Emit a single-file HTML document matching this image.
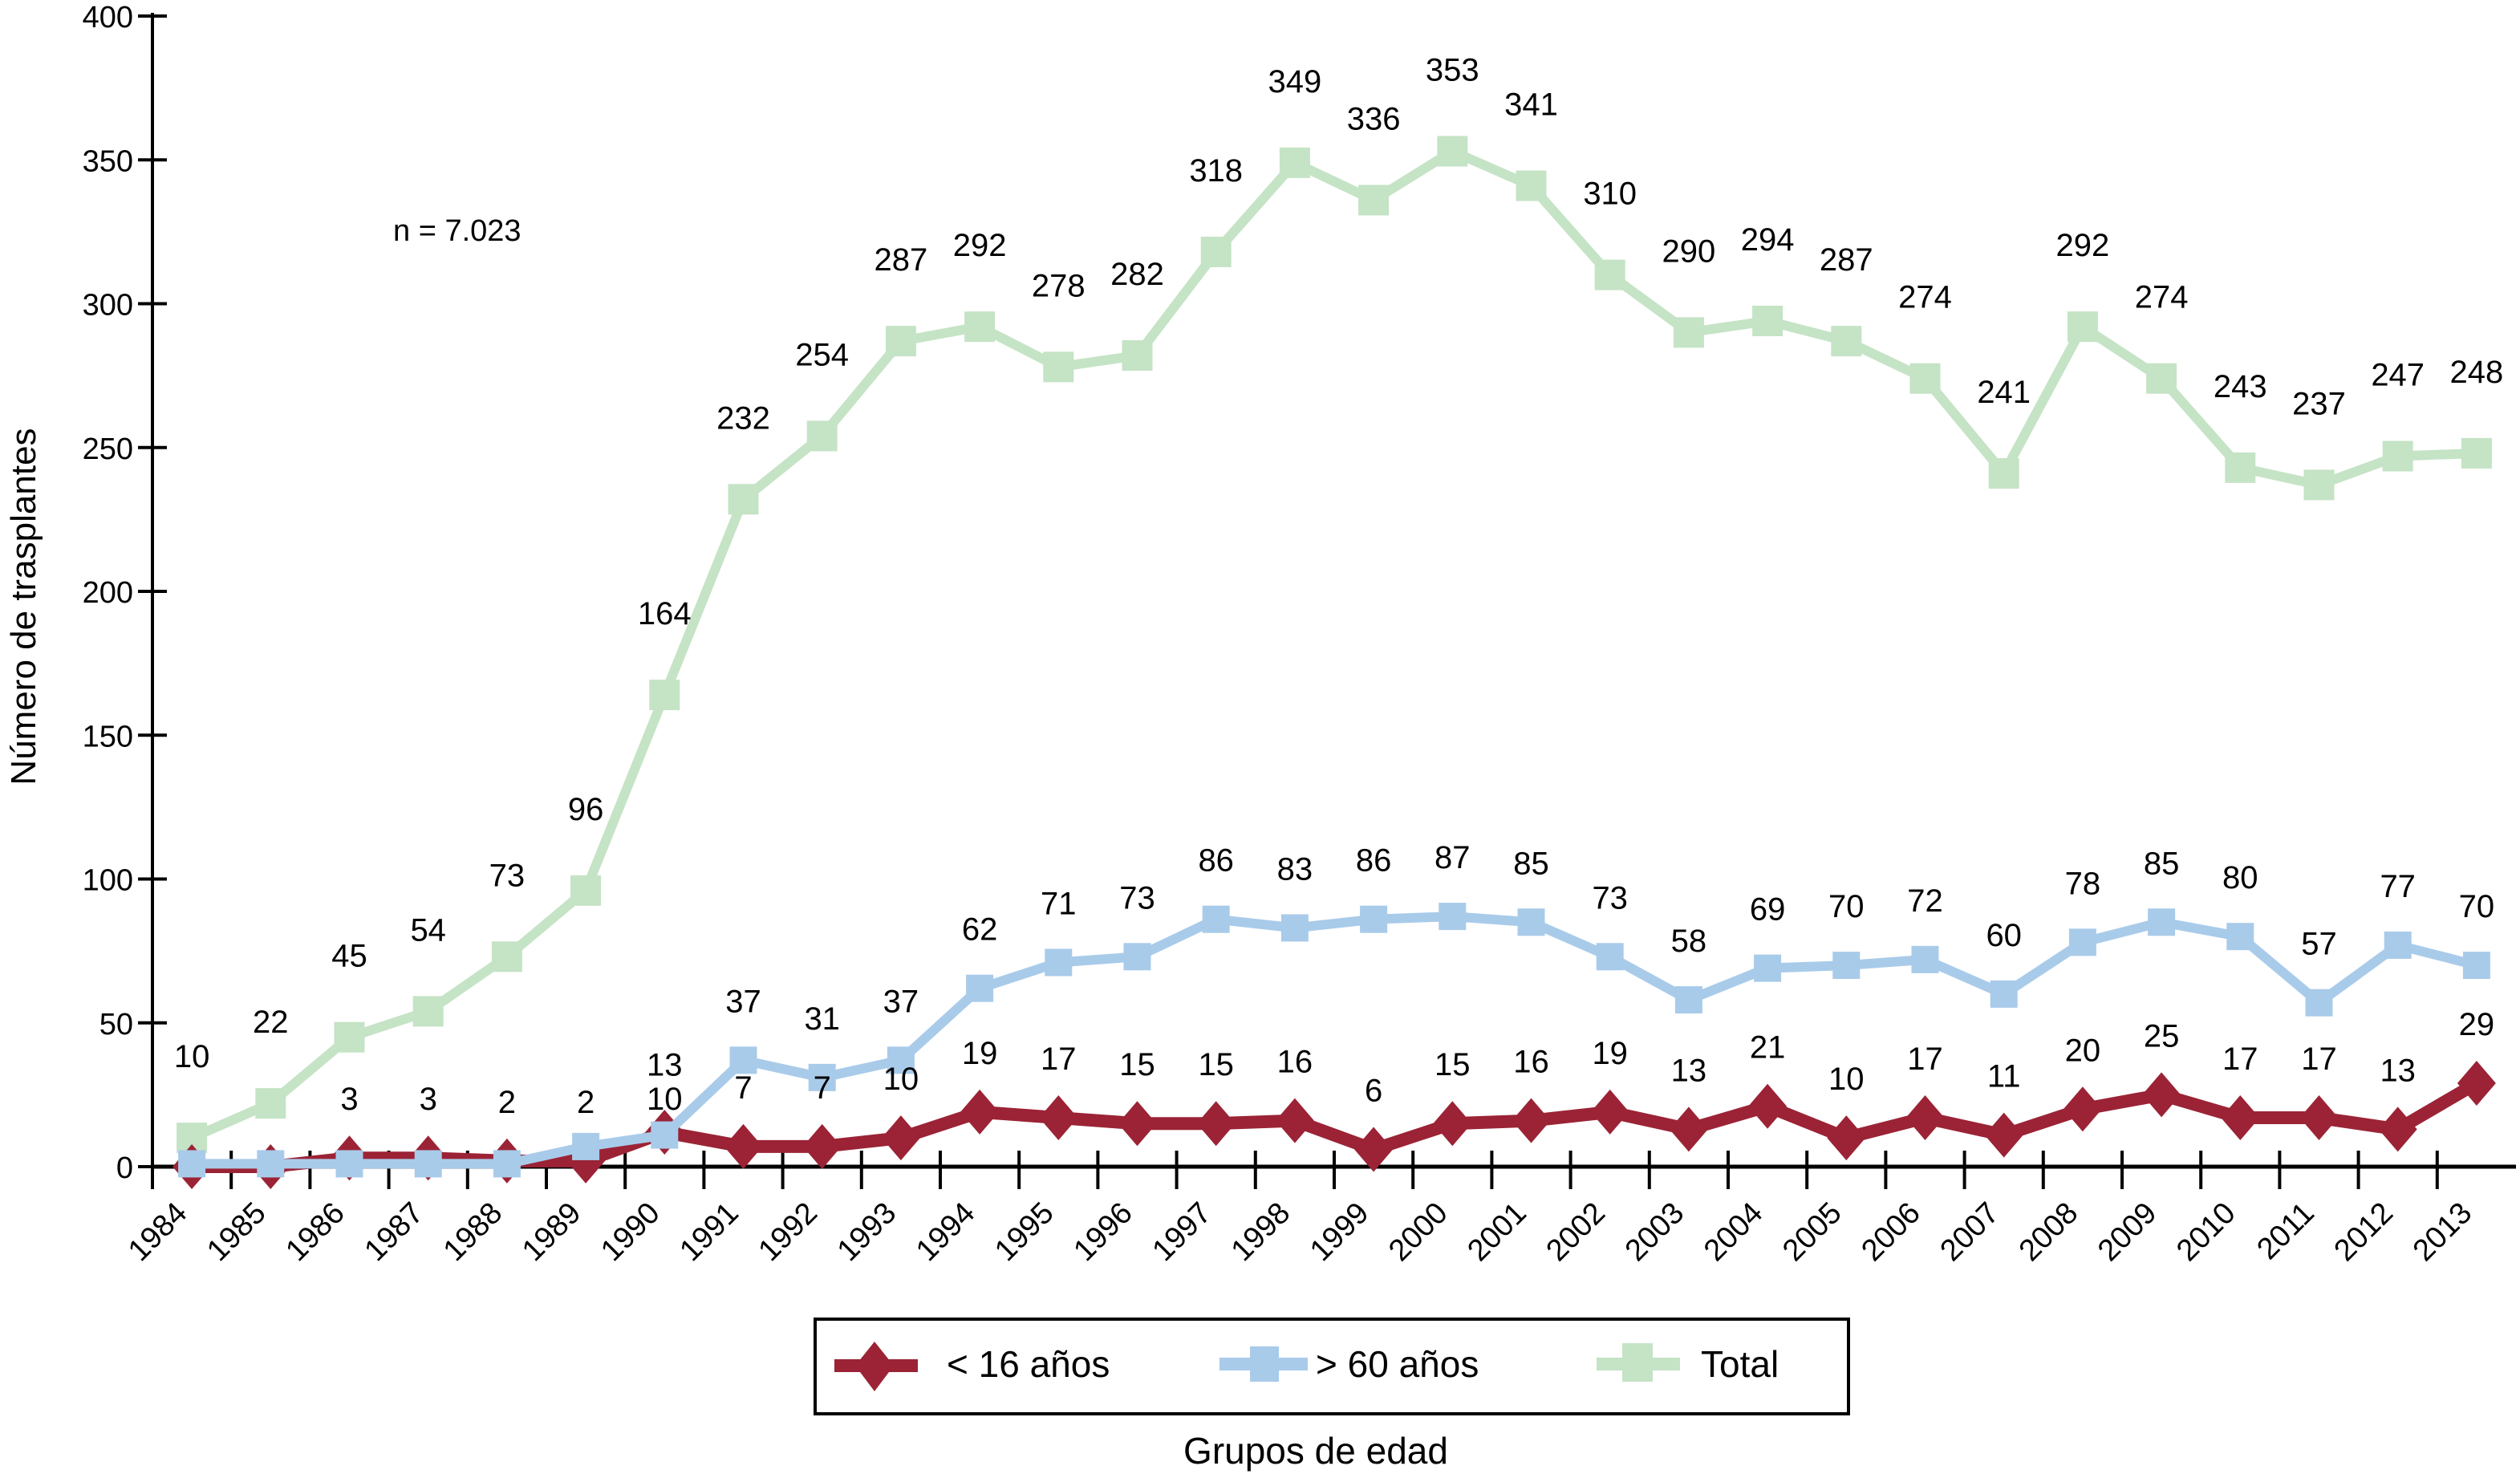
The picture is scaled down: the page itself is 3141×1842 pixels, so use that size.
<!DOCTYPE html>
<html><head><meta charset="utf-8"><style>
html,body{margin:0;padding:0;background:#fff;}
svg{display:block;font-family:"Liberation Sans",sans-serif;}
</style></head><body>
<svg id="chart" width="3141" height="1842" viewBox="0 0 1570.5 921" xmlns="http://www.w3.org/2000/svg">
<g id="axes"></g>
<g id="series"></g>
<g id="labels"></g>
<text x="245" y="150" font-size="19">n = 7.023</text>
<text transform="translate(22,378) rotate(-90)" text-anchor="middle" font-size="22">Número de trasplantes</text>
<text x="820" y="912" text-anchor="middle" font-size="23">Grupos de edad</text>
<g>
<rect x="508" y="822" width="644" height="59" fill="#fff" stroke="#000" stroke-width="2"/>
<g>
<line x1="520" y1="851" x2="572" y2="851" stroke="#9b2335" stroke-width="8"/>
<polygon points="545,836 557,851 545,867 533,851" fill="#9b2335"/>
<text x="590" y="858" font-size="23">&lt; 16 años</text></g>
<g>
<line x1="760" y1="850" x2="815" y2="850" stroke="#a9cbea" stroke-width="8"/>
<rect x="779" y="839" width="18" height="22" fill="#a9cbea"/>
<text x="820" y="858" font-size="23">&gt; 60 años</text></g>
<g>
<line x1="995" y1="850" x2="1047" y2="850" stroke="#c5e3c5" stroke-width="8"/>
<rect x="1011" y="837" width="19" height="24" fill="#c5e3c5"/>
<text x="1060" y="858" font-size="23">Total</text></g>
</g>
</svg>
<script>
const years = [1984,1985,1986,1987,1988,1989,1990,1991,1992,1993,1994,1995,1996,1997,1998,1999,2000,2001,2002,2003,2004,2005,2006,2007,2008,2009,2010,2011,2012,2013];
const under16 = [0,0,3,3,2,2,12,7,7,10,19,17,15,15,16,6,15,16,19,13,21,10,17,11,20,25,17,17,13,29];
const over60 = [1,1,1,1,1,7,11,37,31,37,62,71,73,86,83,86,87,85,73,58,69,70,72,60,78,85,80,57,77,70];
const total = [10,22,45,54,73,96,164,232,254,287,292,278,282,318,349,336,353,341,310,290,294,287,274,241,292,274,243,237,247,248];
const under16Labels = [null,null,3,3,2,2,10,7,7,10,19,17,15,15,16,6,15,16,19,13,21,10,17,11,20,25,17,17,13,29];
const over60Labels = [null,null,null,null,null,null,13,37,31,37,62,71,73,86,83,86,87,85,73,58,69,70,72,60,78,85,80,57,77,70];
const yTicks = [0,50,100,150,200,250,300,350,400];

const NS="http://www.w3.org/2000/svg";
const X0=95, Y0=727, YTOP=10, STEP=49.1;
function xS(i){return X0+STEP*(i+0.5);}
function yS(v){return Y0-(v/400)*(Y0-YTOP);}
function mk(tag,attrs,parent){const e=document.createElementNS(NS,tag);for(const k in attrs)e.setAttribute(k,attrs[k]);parent.appendChild(e);return e;}
const axes=document.getElementById('axes'), series=document.getElementById('series'), labels=document.getElementById('labels');

let e=mk('line',{x1:X0,y1:YTOP-2,x2:X0,y2:Y0+14,stroke:'#000','stroke-width':2},axes);


e=mk('line',{x1:X0,y1:Y0,x2:1568,y2:Y0,stroke:'#000','stroke-width':2.5},axes);


yTicks.forEach(v=>{
  const t=mk('line',{x1:X0-9,y1:yS(v),x2:X0+9,y2:yS(v),stroke:'#000','stroke-width':2},axes);
  
  
  const l=mk('text',{x:X0-12,y:yS(v)+7,'text-anchor':'end','font-size':19},axes);
  l.textContent=v;
  
  
});
years.forEach((yr,i)=>{
  const tx=X0+STEP*i;
  const t=mk('line',{x1:tx,y1:Y0-10,x2:tx,y2:Y0+14,stroke:'#000','stroke-width':2},axes);
  
  
  const l=mk('text',{'text-anchor':'end','font-size':19,transform:`translate(${xS(i)-2},${Y0+30}) rotate(-45)`},axes);
  l.textContent=yr;
  
  
});

function drawSeries(vals,color,name,marker){
  const pts=vals.map((v,i)=>xS(i)+','+yS(v)).join(' ');
  const pl=mk('polyline',{points:pts,fill:'none',stroke:color,'stroke-width':name==='under16'?8:6,'stroke-linejoin':'miter'},series);
  
  
  vals.forEach((v,i)=>{
    const x=xS(i),y=yS(v);
    let m;
    const s=name==='total'?19:17;
    if(marker==='diamond') m=mk('polygon',{points:`${x},${y-14} ${x+12},${y} ${x},${y+14} ${x-12},${y}`,fill:color},series);
    else m=mk('rect',{x:x-s/2,y:y-s/2,width:s,height:s,fill:color},series);
    
    
  });
}
drawSeries(total,'#c5e3c5','total','square');
drawSeries(under16,'#9b2335','under16','diamond');
drawSeries(over60,'#a9cbea','over60','square');

function drawLabels(vals,labs,off,name,special){
  labs.forEach((lv,i)=>{
    if(lv===null)return;
    const o=(special&&special[i]!==undefined)?special[i]:off;
    const t=mk('text',{x:xS(i),y:yS(vals[i])-o,'text-anchor':'middle','font-size':20},labels);
    t.textContent=lv;
    
    
  });
}
drawLabels(total,total,44,'total');
drawLabels(over60,over60Labels,30,'over60',{6:37});
drawLabels(under16,under16Labels,30,'under16',{6:14});
</script>
</body></html>
